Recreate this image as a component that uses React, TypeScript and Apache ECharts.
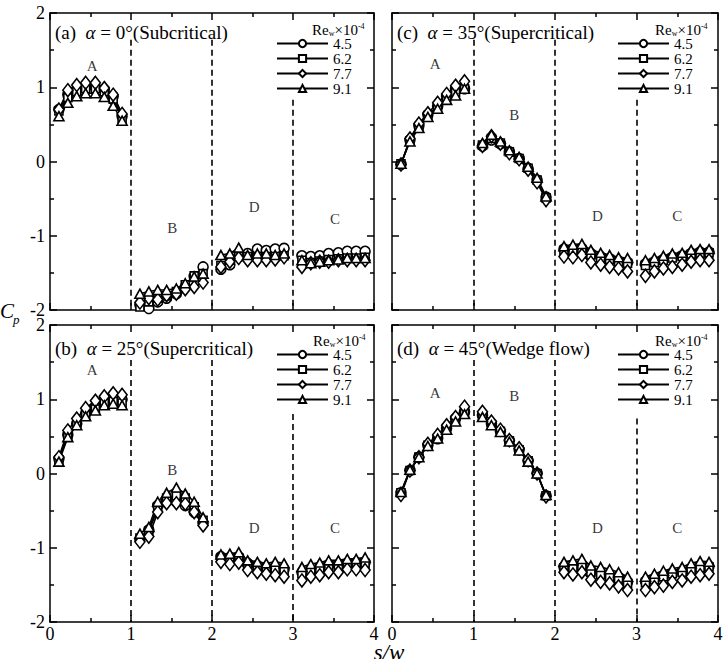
import React, { useEffect, useRef } from "react";
import * as echarts from "echarts";

const SERIF = "Liberation Serif";

// Pressure tap locations along the perimeter, s/w (faces A, B, D, C)
const swTaps = [
  0.11, 0.22, 0.33, 0.44, 0.56, 0.67, 0.78, 0.89,
  1.11, 1.22, 1.33, 1.44, 1.56, 1.67, 1.78, 1.89,
  2.11, 2.22, 2.33, 2.44, 2.56, 2.67, 2.78, 2.89,
  3.11, 3.22, 3.33, 3.44, 3.56, 3.67, 3.78, 3.89,
];

// Reynolds numbers (Re_w x 10^-4)
const reLabels = ["4.5", "6.2", "7.7", "9.1"];

// (a) alpha = 0 deg, subcritical
const a45 = [0.70, 0.90, 0.97, 1.00, 1.00, 0.97, 0.88, 0.61, -1.93, -1.98, -1.89, -1.84, -1.78, -1.69, -1.55, -1.42, -1.45, -1.39, -1.28, -1.24, -1.18, -1.20, -1.18, -1.17, -1.27, -1.28, -1.27, -1.24, -1.23, -1.21, -1.21, -1.21];
const a62 = [0.68, 0.86, 0.94, 0.98, 0.98, 0.94, 0.84, 0.58, -1.96, -1.89, -1.84, -1.81, -1.75, -1.66, -1.54, -1.51, -1.40, -1.33, -1.28, -1.28, -1.28, -1.28, -1.28, -1.27, -1.33, -1.36, -1.34, -1.32, -1.31, -1.30, -1.30, -1.29];
const a77 = [0.70, 0.96, 1.03, 1.06, 1.06, 0.99, 0.90, 0.64, -1.90, -1.84, -1.86, -1.80, -1.78, -1.72, -1.69, -1.63, -1.42, -1.35, -1.30, -1.33, -1.33, -1.33, -1.32, -1.29, -1.42, -1.37, -1.35, -1.35, -1.33, -1.33, -1.33, -1.33];
const a91 = [0.61, 0.79, 0.88, 0.92, 0.92, 0.87, 0.75, 0.55, -1.78, -1.75, -1.73, -1.73, -1.71, -1.64, -1.55, -1.51, -1.26, -1.24, -1.16, -1.26, -1.24, -1.24, -1.26, -1.24, -1.33, -1.37, -1.35, -1.33, -1.32, -1.30, -1.30, -1.30];

// (b) alpha = 25 deg, supercritical
const b45 = [0.20, 0.52, 0.67, 0.81, 0.90, 1.00, 1.01, 1.00, -0.89, -0.76, -0.43, -0.37, -0.38, -0.43, -0.52, -0.67, -1.12, -1.13, -1.12, -1.21, -1.24, -1.27, -1.27, -1.29, -1.33, -1.30, -1.27, -1.23, -1.23, -1.21, -1.20, -1.20];
const b62 = [0.18, 0.50, 0.66, 0.79, 0.87, 0.95, 0.97, 0.95, -0.87, -0.78, -0.47, -0.33, -0.30, -0.33, -0.45, -0.63, -1.14, -1.15, -1.14, -1.23, -1.26, -1.28, -1.29, -1.31, -1.35, -1.31, -1.28, -1.25, -1.24, -1.22, -1.21, -1.21];
const b77 = [0.22, 0.58, 0.74, 0.88, 0.98, 1.04, 1.08, 1.06, -0.92, -0.85, -0.52, -0.40, -0.40, -0.41, -0.52, -0.70, -1.19, -1.22, -1.20, -1.30, -1.33, -1.35, -1.37, -1.39, -1.44, -1.39, -1.37, -1.33, -1.33, -1.29, -1.29, -1.30];
const b91 = [0.16, 0.49, 0.65, 0.77, 0.85, 0.92, 0.94, 0.92, -0.81, -0.72, -0.38, -0.26, -0.19, -0.27, -0.38, -0.59, -1.09, -1.08, -1.06, -1.17, -1.19, -1.21, -1.19, -1.21, -1.26, -1.22, -1.20, -1.17, -1.17, -1.15, -1.15, -1.13];

// (c) alpha = 35 deg, supercritical
const c45 = [-0.04, 0.29, 0.48, 0.63, 0.74, 0.88, 0.98, 0.98, 0.21, 0.29, 0.24, 0.13, 0.04, -0.09, -0.25, -0.48, -1.18, -1.18, -1.17, -1.24, -1.28, -1.31, -1.34, -1.36, -1.38, -1.35, -1.32, -1.29, -1.27, -1.24, -1.22, -1.22];
const c62 = [-0.03, 0.28, 0.47, 0.62, 0.73, 0.86, 0.93, 0.98, 0.22, 0.31, 0.25, 0.13, 0.04, -0.09, -0.25, -0.49, -1.20, -1.20, -1.19, -1.26, -1.30, -1.32, -1.35, -1.37, -1.40, -1.36, -1.33, -1.30, -1.28, -1.25, -1.24, -1.23];
const c77 = [-0.04, 0.31, 0.51, 0.65, 0.79, 0.91, 1.02, 1.08, 0.21, 0.34, 0.24, 0.11, 0.03, -0.11, -0.28, -0.52, -1.28, -1.29, -1.26, -1.36, -1.39, -1.42, -1.44, -1.48, -1.54, -1.48, -1.44, -1.42, -1.39, -1.35, -1.33, -1.33];
const c91 = [-0.03, 0.27, 0.45, 0.60, 0.71, 0.83, 0.89, 0.98, 0.25, 0.36, 0.27, 0.15, 0.06, -0.07, -0.22, -0.47, -1.14, -1.12, -1.11, -1.19, -1.23, -1.26, -1.29, -1.30, -1.33, -1.30, -1.27, -1.24, -1.23, -1.19, -1.18, -1.18];

// (d) alpha = 45 deg, wedge flow
const d45 = [-0.26, 0.04, 0.22, 0.38, 0.47, 0.61, 0.74, 0.83, 0.78, 0.67, 0.57, 0.44, 0.32, 0.17, 0.00, -0.30, -1.26, -1.25, -1.23, -1.31, -1.34, -1.37, -1.40, -1.46, -1.45, -1.42, -1.38, -1.34, -1.32, -1.29, -1.26, -1.25];
const d62 = [-0.26, 0.04, 0.22, 0.38, 0.48, 0.61, 0.72, 0.82, 0.77, 0.66, 0.57, 0.44, 0.32, 0.17, 0.00, -0.30, -1.27, -1.27, -1.25, -1.33, -1.36, -1.39, -1.42, -1.48, -1.47, -1.43, -1.39, -1.35, -1.33, -1.30, -1.27, -1.26];
const d77 = [-0.29, 0.04, 0.22, 0.40, 0.52, 0.65, 0.76, 0.90, 0.83, 0.70, 0.59, 0.45, 0.34, 0.18, 0.00, -0.31, -1.33, -1.36, -1.33, -1.43, -1.46, -1.48, -1.52, -1.57, -1.57, -1.53, -1.51, -1.46, -1.44, -1.39, -1.37, -1.35];
const d91 = [-0.25, 0.05, 0.22, 0.37, 0.47, 0.59, 0.70, 0.80, 0.76, 0.65, 0.56, 0.43, 0.31, 0.16, 0.00, -0.29, -1.19, -1.17, -1.15, -1.24, -1.26, -1.29, -1.33, -1.39, -1.39, -1.35, -1.31, -1.28, -1.26, -1.21, -1.18, -1.19];

// Face letters placed in data coordinates [s/w, Cp, letter]
const facesA = [[0.52, 1.28, "A"], [1.51, -0.90, "B"], [2.52, -0.61, "D"], [3.52, -0.77, "C"]];
const facesB = [[0.52, 1.39, "A"], [1.51, 0.05, "B"], [2.52, -0.74, "D"], [3.52, -0.74, "C"]];
const facesC = [[0.53, 1.31, "A"], [1.50, 0.62, "B"], [2.52, -0.73, "D"], [3.50, -0.73, "C"]];
const facesD = [[0.53, 1.09, "A"], [1.50, 1.05, "B"], [2.52, -0.74, "D"], [3.50, -0.74, "C"]];

// Face boundaries (s/w = 1, 2, 3) and the Cp where each dashed divider starts
const dividerAt = [1, 2, 3];
const dividerTopA = [1.64, 1.64, 0.83];
const dividerTopB = [1.53, 1.53, 0.80];
const dividerTopC = [1.64, 1.64, 0.83];
const dividerTopD = [1.53, 1.53, 0.74];

const panels = [
  { tag: "(a)", angle: "0", regime: "(Subcritical)", values: [a45, a62, a77, a91], faces: facesA, tops: dividerTopA,
    grid: { left: 50, top: 13, width: 324, height: 297 }, xLabels: false, yLabels: true,
    title: [55, 32], legend: [276, 36], header: [312, 30] },
  { tag: "(b)", angle: "25", regime: "(Supercritical)", values: [b45, b62, b77, b91], faces: facesB, tops: dividerTopB,
    grid: { left: 50, top: 325, width: 324, height: 297 }, xLabels: true, yLabels: true,
    title: [55, 348], legend: [276, 347], header: [313, 341] },
  { tag: "(c)", angle: "35", regime: "(Supercritical)", values: [c45, c62, c77, c91], faces: facesC, tops: dividerTopC,
    grid: { left: 392, top: 13, width: 326, height: 297 }, xLabels: false, yLabels: false,
    title: [397, 32], legend: [617, 36], header: [655, 30] },
  { tag: "(d)", angle: "45", regime: "(Wedge flow)", values: [d45, d62, d77, d91], faces: facesD, tops: dividerTopD,
    grid: { left: 392, top: 325, width: 326, height: 297 }, xLabels: true, yLabels: false,
    title: [397, 348], legend: [617, 347], header: [655, 341] },
];

const markerShapes = ["circle", "rect", "diamond", "triangle"];
const markerSizes: any[] = [10, 8, [10, 13], [10, 9]];

const BLACK = "#000";

function frameAxis(gridIndex: number, position: string, isX: boolean, showLabel: boolean) {
  return {
    type: "value",
    gridIndex,
    position,
    min: isX ? 0 : -2,
    max: isX ? 4 : 2,
    interval: 1,
    axisLine: { show: true, onZero: false, lineStyle: { color: BLACK, width: 1.5 } },
    axisTick: { show: true, inside: true, length: 7, lineStyle: { color: BLACK, width: 1.5 } },
    minorTick: { show: true, splitNumber: 2, length: 4, lineStyle: { color: BLACK, width: 1.5 } },
    splitLine: { show: false },
    minorSplitLine: { show: false },
    axisLabel: {
      show: showLabel,
      color: BLACK,
      fontSize: 18,
      fontFamily: SERIF,
      margin: isX ? 3 : 5,
    },
  };
}

function buildOption() {
  const grid: any[] = [];
  const xAxis: any[] = [];
  const yAxis: any[] = [];
  const series: any[] = [];
  const legend: any[] = [];
  const graphic: any[] = [];

  panels.forEach((p, i) => {
    grid.push({ ...p.grid, containLabel: false, outerBoundsMode: "none" });
    xAxis.push(frameAxis(i, "bottom", true, p.xLabels));
    xAxis.push(frameAxis(i, "top", true, false));
    yAxis.push(frameAxis(i, "left", false, p.yLabels));
    yAxis.push(frameAxis(i, "right", false, false));

    p.values.forEach((vals, k) => {
      const data: any[] = [];
      vals.forEach((v, j) => {
        data.push([swTaps[j], v]);
        // break the line between faces
        if (j % 8 === 7 && j < vals.length - 1) data.push([swTaps[j], null]);
      });
      const s: any = {
        type: "line",
        name: reLabels[k],
        xAxisIndex: 2 * i,
        yAxisIndex: 2 * i,
        data,
        connectNulls: false,
        symbol: markerShapes[k],
        symbolSize: markerSizes[k],
        showAllSymbol: true,
        lineStyle: { color: BLACK, width: 1.6 },
        itemStyle: { color: "#fff", borderColor: BLACK, borderWidth: 1.6 },
        emphasis: { disabled: true },
        silent: true,
      };
      if (k === 0) {
        s.markLine = {
          silent: true,
          symbol: ["none", "none"],
          label: { show: false },
          lineStyle: { color: BLACK, width: 1.6, type: [6, 4] },
          data: dividerAt.map((x, m) => [{ coord: [x, p.tops[m]] }, { coord: [x, -2] }]),
        };
      }
      series.push(s);
    });

    series.push({
      type: "scatter",
      name: "faces",
      xAxisIndex: 2 * i,
      yAxisIndex: 2 * i,
      data: p.faces,
      symbol: "circle",
      symbolSize: 1,
      itemStyle: { color: "transparent", borderWidth: 0 },
      silent: true,
      label: {
        show: true,
        position: "inside",
        formatter: (prm: any) => prm.value[2],
        color: BLACK,
        fontSize: 15,
        fontFamily: SERIF,
      },
    });

    legend.push({
      data: reLabels,
      orient: "vertical",
      left: p.legend[0],
      top: p.legend[1],
      itemWidth: 51,
      itemHeight: 9,
      itemGap: 0,
      padding: 0,
      selectedMode: false,
      textStyle: { color: BLACK, fontSize: 15, fontFamily: SERIF, lineHeight: 14 },
    });

    graphic.push({
      type: "text",
      x: p.title[0],
      y: p.title[1],
      silent: true,
      style: {
        text: `{n|${p.tag}  }{i|α}{n| = ${p.angle}°${p.regime}}`,
        verticalAlign: "middle",
        fill: BLACK,
        rich: {
          n: { fontSize: 19, fontFamily: SERIF, fill: BLACK },
          i: { fontSize: 19, fontFamily: SERIF, fontStyle: "italic", fill: BLACK },
        },
      },
    });

    graphic.push({
      type: "text",
      x: p.header[0],
      y: p.header[1],
      silent: true,
      style: {
        text: "{n|Re}{s|w}{n|×10}{u|-4}",
        verticalAlign: "middle",
        fill: BLACK,
        rich: {
          n: { fontSize: 15, fontFamily: SERIF, fill: BLACK, lineHeight: 15 },
          s: { fontSize: 8, fontFamily: SERIF, fill: BLACK, verticalAlign: "bottom" },
          u: { fontSize: 8, fontFamily: SERIF, fill: BLACK, verticalAlign: "top" },
        },
      },
    });
  });

  graphic.push({
    type: "text",
    x: 0,
    y: 311,
    silent: true,
    style: { text: "C", fontSize: 21, fontFamily: SERIF, fontStyle: "italic", fill: BLACK, verticalAlign: "middle" },
  });
  graphic.push({
    type: "text",
    x: 13,
    y: 319,
    silent: true,
    style: { text: "p", fontSize: 13, fontFamily: SERIF, fontStyle: "italic", fill: BLACK, verticalAlign: "middle" },
  });
  graphic.push({
    type: "text",
    x: 389,
    y: 652,
    silent: true,
    style: { text: "s/w", fontSize: 23, fontFamily: SERIF, fontStyle: "italic", fill: BLACK, align: "center", verticalAlign: "middle" },
  });

  return {
    animation: false,
    backgroundColor: "#fff",
    textStyle: { fontFamily: SERIF },
    grid,
    xAxis,
    yAxis,
    legend,
    series,
    graphic,
  };
}

export default function App() {
  const ref = useRef<HTMLDivElement>(null);
  useEffect(() => {
    if (!ref.current) return;
    const chart = echarts.init(ref.current, undefined, { renderer: "svg" });
    chart.setOption(buildOption() as any);
    return () => chart.dispose();
  }, []);
  return (
    <div
      ref={ref}
      style={{ position: "absolute", left: 0, top: 0, width: 727, height: 659, background: "#fff" }}
    />
  );
}
